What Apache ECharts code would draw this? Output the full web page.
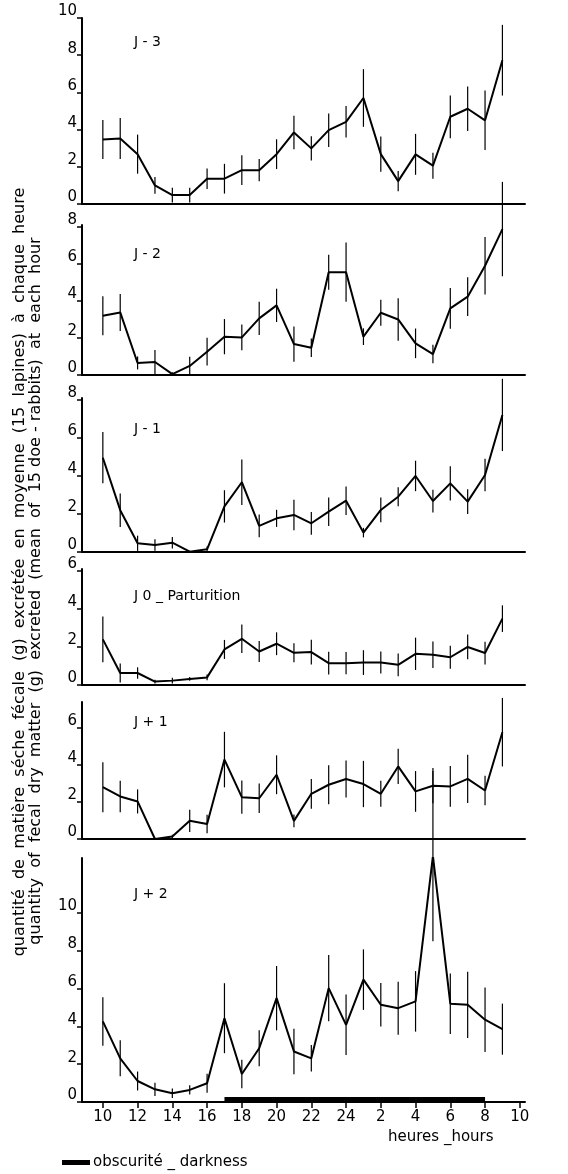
<!DOCTYPE html>
<html>
<head>
<meta charset="utf-8">
<script src="https://cdn.jsdelivr.net/npm/echarts@6/dist/echarts.min.js"></script>
<style>
  html, body { margin: 0; padding: 0; background: #fff; }
  #main { width: 568px; height: 1174px; }
</style>
</head>
<body>
<div id="main"></div>
<script>
// heures de mesure (10 h -> 9 h le lendemain)
const hours = ['10', '11', '12', '13', '14', '15', '16', '17', '18', '19', '20', '21',
  '22', '23', '24', '1', '2', '3', '4', '5', '6', '7', '8', '9'];
const xTickLabels = ['10', '12', '14', '16', '18', '20', '22', '24', '2', '4', '6', '8', '10'];

// moyennes (g) et demi-barres d'erreur, par jour
const jm3 = [3.47, 3.52, 2.68, 1.0, 0.48, 0.48, 1.36, 1.36, 1.82, 1.82, 2.68, 3.85, 2.99, 3.97, 4.42, 5.7, 2.68, 1.23, 2.67, 2.06, 4.69, 5.12, 4.5, 7.73];
const jm3Err = [1.05, 1.1, 1.05, 0.45, 0.4, 0.4, 0.55, 0.8, 0.8, 0.6, 0.8, 0.9, 0.65, 0.9, 0.85, 1.55, 0.95, 0.55, 1.1, 0.7, 1.15, 1.2, 1.6, 1.9];

const jm2 = [3.2, 3.38, 0.65, 0.7, 0.05, 0.49, 1.26, 2.07, 2.03, 3.06, 3.76, 1.67, 1.47, 5.55, 5.55, 2.07, 3.36, 3.0, 1.71, 1.13, 3.6, 4.23, 5.9, 7.88];
const jm2Err = [1.05, 1.0, 0.35, 0.65, 0.1, 0.5, 0.75, 0.95, 0.7, 0.9, 0.9, 0.95, 0.5, 0.95, 1.6, 0.45, 0.7, 1.15, 0.8, 0.5, 1.1, 1.05, 1.55, 2.55];

const jm1 = [4.96, 2.2, 0.46, 0.37, 0.49, 0.02, 0.14, 2.4, 3.67, 1.37, 1.77, 1.95, 1.51, 2.12, 2.7, 1.02, 2.21, 2.91, 4.0, 2.68, 3.61, 2.65, 4.05, 7.21];
const jm1Err = [1.35, 0.88, 0.4, 0.3, 0.3, 0.05, 0.15, 0.85, 1.2, 0.6, 0.45, 0.8, 0.6, 0.75, 0.75, 0.25, 0.65, 0.5, 0.8, 0.6, 0.9, 0.65, 0.85, 1.9];

const j0 = [2.4, 0.63, 0.63, 0.18, 0.23, 0.32, 0.4, 1.87, 2.43, 1.76, 2.17, 1.69, 1.73, 1.15, 1.15, 1.18, 1.18, 1.06, 1.64, 1.59, 1.46, 2.0, 1.68, 3.49];
const j0Err = [1.2, 0.5, 0.3, 0.1, 0.15, 0.1, 0.15, 0.5, 0.75, 0.55, 0.6, 0.5, 0.65, 0.6, 0.58, 0.65, 0.58, 0.6, 0.85, 0.7, 0.6, 0.65, 0.6, 0.7];

const jp1 = [2.8, 2.3, 2.03, 0.0, 0.13, 0.98, 0.81, 4.29, 2.26, 2.2, 3.47, 0.98, 2.44, 2.93, 3.24, 2.97, 2.44, 3.92, 2.57, 2.88, 2.84, 3.25, 2.62, 5.77];
const jp1Err = [1.35, 0.85, 0.65, 0.05, 0.1, 0.6, 0.5, 1.5, 0.9, 0.8, 1.05, 0.35, 0.8, 1.05, 1.0, 1.25, 0.7, 0.95, 1.1, 0.95, 1.1, 1.3, 0.8, 1.85];

const jp2 = [4.26, 2.31, 1.11, 0.67, 0.46, 0.64, 0.99, 4.43, 1.48, 2.84, 5.49, 2.67, 2.31, 6.02, 4.08, 6.47, 5.14, 4.96, 5.32, 13.0, 5.2, 5.14, 4.35, 3.85];
const jp2Err = [1.28, 0.95, 0.5, 0.35, 0.25, 0.25, 0.5, 1.85, 0.75, 0.95, 1.7, 1.2, 0.7, 1.75, 1.6, 1.6, 1.15, 1.4, 1.6, 4.5, 1.6, 1.75, 1.7, 1.35];

// période d'obscurité : de 17 h à 8 h
const darkness = ['17', '8'];
const darknessLabel = 'obscurité _ darkness';

const dayNames = ['J - 3', 'J - 2', 'J - 1', 'J 0 _ Parturition', 'J + 1', 'J + 2'];
const dayMeans = [jm3, jm2, jm1, j0, jp1, jp2];
const dayErrs = [jm3Err, jm2Err, jm1Err, j0Err, jp1Err, jp2Err];
const yTicks = [
  [0, 2, 4, 6, 8, 10],
  [0, 2, 4, 6, 8],
  [0, 2, 4, 6, 8],
  [0, 2, 4, 6],
  [0, 2, 4, 6],
  [0, 2, 4, 6, 8, 10]
];

// mise en page des 6 panneaux (px)
const panels = [
  { top: 18, height: 186, max: 10, titleY: 43 },
  { top: 225, height: 150, max: 8.1, titleY: 255 },
  { top: 398, height: 154, max: 8.1, titleY: 430 },
  { top: 569, height: 116, max: 6.1, titleY: 597 },
  { top: 702, height: 137, max: 7.4, titleY: 723 },
  { top: 858, height: 244, max: 12.9, titleY: 895 }
];

const FONT = 'DejaVu Sans';
const chartDom = document.getElementById('main');
const myChart = echarts.init(chartDom);

const grid = [], xAxis = [], yAxis = [], series = [], graphic = [];
const last = panels.length - 1;

panels.forEach((p, k) => {
  grid.push({ left: 82, width: 443, top: p.top, height: p.height });
  xAxis.push({
    type: 'value', gridIndex: k, min: -1.2, max: 24.3,
    axisLine: { show: true, onZero: false, lineStyle: { color: '#000', width: 2 } },
    axisTick: {
      show: k === last, inside: false, length: 6,
      customValues: xTickLabels.map((_, n) => n * 2),
      lineStyle: { color: '#000', width: 1.5 }
    },
    axisLabel: {
      show: k === last, margin: 8, color: '#000', fontSize: 15, fontFamily: FONT,
      customValues: xTickLabels.map((_, n) => n * 2),
      formatter: v => xTickLabels[Math.round(v / 2)]
    },
    splitLine: { show: false }
  });
  yAxis.push({
    type: 'value', gridIndex: k, min: 0, max: p.max,
    axisLine: { show: true, onZero: false, lineStyle: { color: '#000', width: 2 } },
    axisTick: { show: true, length: 5, customValues: yTicks[k], lineStyle: { color: '#000', width: 1.5 } },
    axisLabel: {
      color: '#000', fontSize: 15, fontFamily: FONT, margin: 5,
      verticalAlign: 'bottom', lineHeight: 13, customValues: yTicks[k]
    },
    splitLine: { show: false }
  });
  const means = dayMeans[k], errs = dayErrs[k];
  series.push({
    type: 'line', xAxisIndex: k, yAxisIndex: k,
    data: means.map((v, i) => [i, v]),
    symbol: 'none', lineStyle: { color: '#000', width: 2 }, silent: true
  });
  series.push({
    type: 'custom', xAxisIndex: k, yAxisIndex: k, clip: false, silent: true,
    data: means.map((v, i) => [i, v - errs[i], v + errs[i]]),
    renderItem: (params, api) => {
      const lo = api.coord([api.value(0), Math.max(0, api.value(1))]);
      const hi = api.coord([api.value(0), api.value(2)]);
      return {
        type: 'line',
        shape: { x1: lo[0], y1: lo[1], x2: hi[0], y2: hi[1] },
        style: { stroke: '#000', lineWidth: 1.2 }
      };
    }
  });
  graphic.push({
    type: 'text', left: 134, top: p.titleY - 8,
    style: { text: dayNames[k], fontSize: 14, fontFamily: FONT, fill: '#000' }
  });
});

// barre d'obscurité (panneau J + 2)
series.push({
  type: 'custom', name: darknessLabel, xAxisIndex: last, yAxisIndex: last, silent: true,
  data: [[hours.indexOf(darkness[0]), hours.indexOf(darkness[1])]],
  renderItem: (params, api) => {
    const a = api.coord([api.value(0), 0]);
    const b = api.coord([api.value(1), 0]);
    return { type: 'rect', shape: { x: a[0], y: a[1] - 5, width: b[0] - a[0], height: 5 }, style: { fill: '#000' } };
  },
  itemStyle: { color: '#000' }
});

// titre de l'axe vertical (deux lignes)
graphic.push({
  type: 'text', x: 28, y: 572, rotation: Math.PI / 2,
  style: {
    text: 'quantité  de  matière  séche  fécale  (g)  excrétée  en  moyenne  (15  lapines)  à  chaque  heure',
    fontSize: 16, fontFamily: FONT, fill: '#000', align: 'center', verticalAlign: 'bottom'
  }
});
graphic.push({
  type: 'text', x: 44, y: 591, rotation: Math.PI / 2,
  style: {
    text: 'quantity  of  fecal  dry  matter  (g)  excreted  (mean  of  15 doe - rabbits)  at  each  hour',
    fontSize: 16, fontFamily: FONT, fill: '#000', align: 'center', verticalAlign: 'bottom'
  }
});
graphic.push({
  type: 'text', left: 388, top: 1130,
  style: { text: 'heures _hours', fontSize: 15, fontFamily: FONT, fill: '#000' }
});

// légende : barre noire + texte
graphic.push({
  type: 'rect', left: 62, top: 1160,
  shape: { width: 28, height: 5 }, style: { fill: '#000' }
});
graphic.push({
  type: 'text', left: 93, top: 1155,
  style: { text: darknessLabel, fontSize: 15, fontFamily: FONT, fill: '#000' }
});

const option = {
  animation: false,
  backgroundColor: '#fff',
  grid, xAxis, yAxis, series, graphic
};
option && myChart.setOption(option);
</script>
</body>
</html>
